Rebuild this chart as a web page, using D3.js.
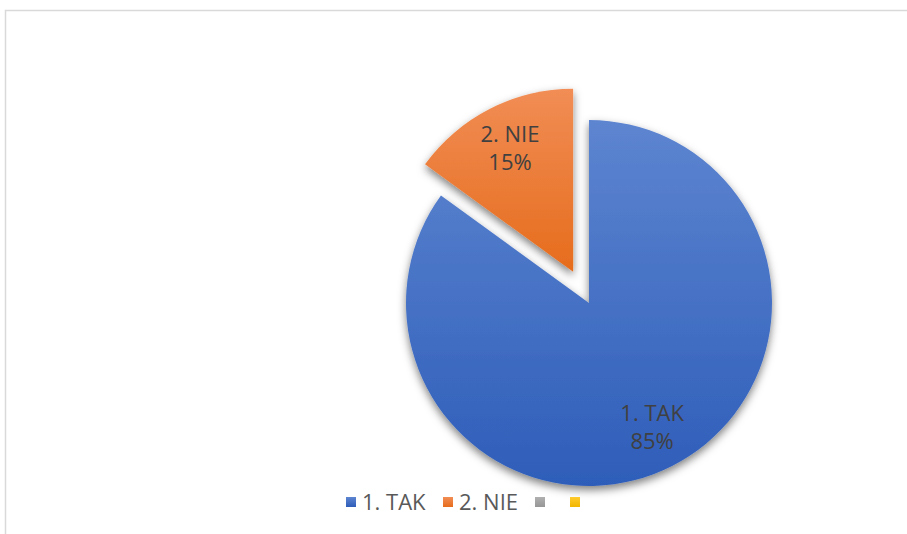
<!DOCTYPE html>
<html><head><meta charset="utf-8">
<script src="https://cdn.jsdelivr.net/npm/d3@7"></script>
<style>
html,body{margin:0;padding:0;background:#fff;}
svg{display:block;}
text{font-family:"Open Sans","Liberation Sans",sans-serif;}
</style></head>
<body>
<svg id="chart" width="907" height="534"></svg>
<script>
const categories = ["1. TAK", "2. NIE", "", ""];
const values = [85, 15, 0, 0];
const colorsTop = ["#5D85D0", "#F18D55", "#B0B0B0", "#FFCB2E"];
const colorsBottom = ["#2E5DB9", "#E66C1C", "#969696", "#F2B600"];
const explode = [0, 35, 0, 0];

const W = 907, H = 534;
const svg = d3.select("#chart");
const defs = svg.append("defs");

// frame
svg.append("path").attr("d", `M5.5,${H} V10.5 H${W}`).attr("fill", "none").attr("stroke", "#d9d9d9").attr("stroke-width", 1.5);

const f = defs.append("filter").attr("id", "sh").attr("x", "-20%").attr("y", "-20%").attr("width", "140%").attr("height", "140%");
f.append("feDropShadow").attr("dx", 0).attr("dy", 4).attr("stdDeviation", 4).attr("flood-color", "#000").attr("flood-opacity", 0.5);

colorsTop.forEach((c, i) => {
  const g = defs.append("linearGradient").attr("id", "g" + i).attr("x1", 0).attr("y1", 0).attr("x2", 0).attr("y2", 1);
  g.append("stop").attr("offset", "0%").attr("stop-color", c);
  g.append("stop").attr("offset", "100%").attr("stop-color", colorsBottom[i]);
});

const cx = 589, cy = 303, r = 183;
const pie = d3.pie().sort(null).value(d => d)(values);
const arc = d3.arc().innerRadius(0).outerRadius(r);
const g = svg.append("g").attr("transform", `translate(${cx},${cy})`);

const slices = g.selectAll("g.s").data(pie).join("g").attr("class", "s")
  .attr("transform", (d, i) => {
    const a = (d.startAngle + d.endAngle) / 2;
    return `translate(${Math.sin(a) * explode[i]},${-Math.cos(a) * explode[i]})`;
  });
slices.filter(d => d.value > 0).append("path").attr("d", arc)
  .attr("fill", d => `url(#g${d.index})`).attr("filter", "url(#sh)");

const labelArc = d3.arc().innerRadius(r * 0.76).outerRadius(r * 0.76);
const total = d3.sum(values);
slices.filter(d => d.value > 0).each(function(d) {
  const [x, y] = labelArc.centroid(d);
  const t = d3.select(this).append("text").attr("text-anchor", "middle").attr("fill", "#404040").attr("font-size", 22);
  t.append("tspan").attr("x", x).attr("y", y - 6).text(categories[d.index]);
  t.append("tspan").attr("x", x).attr("y", y + 22).text(Math.round(d.value / total * 100) + "%");
});

// legend
const lg = svg.append("g").attr("transform", "translate(346,497)");
const offs = [0, 97, 189, 224];
categories.forEach((c, i) => {
  const it = lg.append("g").attr("transform", `translate(${offs[i]},0)`);
  it.append("rect").attr("width", 10).attr("height", 10).attr("fill", `url(#g${i})`);
  it.append("text").attr("x", 16).attr("y", 13).attr("font-size", 22).attr("fill", "#595959").text(c);
});
</script>
</body></html>
